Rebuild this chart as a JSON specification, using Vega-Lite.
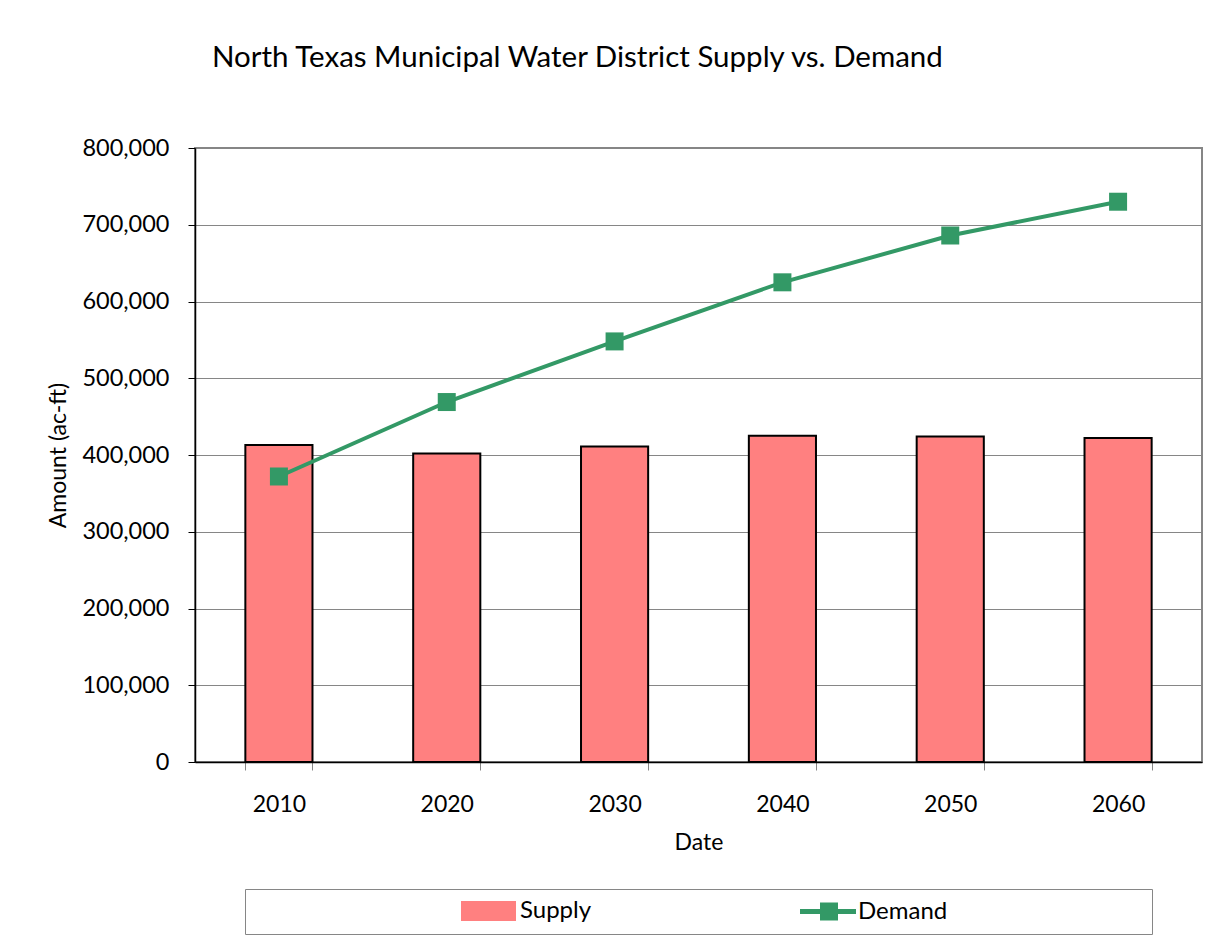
{
  "$schema": "https://vega.github.io/schema/vega-lite/v6.json",
  "width": 1007,
  "height": 614,
  "autosize": {"type": "none"},
  "padding": {"left": 195, "top": 148, "right": 29, "bottom": 184},
  "background": "white",
  "title": {
    "text": "North Texas Municipal Water District Supply vs. Demand",
    "anchor": "start",
    "frame": "group",
    "dx": 17,
    "offset": 40,
    "baseline": "alphabetic",
    "font": "Lato",
    "fontSize": 29.5,
    "fontWeight": "normal",
    "color": "black"
  },
  "data": {
    "values": [
      {"year": "2010", "supply": 413000, "demand": 372000},
      {"year": "2020", "supply": 402000, "demand": 469000},
      {"year": "2030", "supply": 411000, "demand": 548000},
      {"year": "2040", "supply": 425000, "demand": 625000},
      {"year": "2050", "supply": 424000, "demand": 686000},
      {"year": "2060", "supply": 422000, "demand": 730000}
    ]
  },
  "encoding": {
    "x": {
      "field": "year",
      "type": "ordinal",
      "title": "Date",
      "scale": {"paddingInner": 0.6, "paddingOuter": 0.3},
      "axis": {
        "labelAngle": 0,
        "tickBand": "extent",
        "tickSize": 8,
        "tickColor": "#868686",
        "domainColor": "black",
        "domainWidth": 1.5,
        "labelPadding": 23,
        "titlePadding": 15,
        "labelFont": "Lato",
        "labelFontSize": 23,
        "labelColor": "black",
        "titleFont": "Lato",
        "titleFontSize": 23,
        "titleFontWeight": "normal",
        "titleColor": "black",
        "grid": false
      }
    }
  },
  "layer": [
    {
      "mark": {"type": "bar", "stroke": "black", "strokeWidth": 2, "opacity": 1},
      "encoding": {
        "y": {
          "field": "supply",
          "type": "quantitative",
          "title": "Amount (ac-ft)",
          "scale": {"domain": [0, 800000], "nice": false},
          "axis": {
            "values": [0, 100000, 200000, 300000, 400000, 500000, 600000, 700000, 800000],
            "format": ",d",
            "tickSize": 7,
            "tickColor": "black",
            "domainColor": "black",
            "domainWidth": 1.5,
            "gridColor": "#868686",
            "gridWidth": 1,
            "labelPadding": 19,
            "titlePadding": 11,
            "labelFont": "Lato",
            "labelFontSize": 23.5,
            "labelColor": "black",
            "titleFont": "Lato",
            "titleFontSize": 23,
            "titleFontWeight": "normal",
            "titleColor": "black"
          }
        },
        "color": {
          "datum": "Supply",
          "type": "nominal",
          "scale": {"domain": ["Supply", "Demand"], "range": ["#FF8080", "#339966"]},
          "legend": {
            "orient": "none",
            "legendX": 50,
            "legendY": 741,
            "direction": "horizontal",
            "columns": 2,
            "columnPadding": 207,
            "padding": 10,
            "strokeColor": "#868686",
            "fillColor": "white",
            "title": ".",
            "titleOrient": "left",
            "titleFontSize": 1,
            "titleColor": "white",
            "titleOpacity": 0,
            "titlePadding": 205,
            "labelFont": "Lato",
            "labelFontSize": 24,
            "labelColor": "black",
            "labelLimit": 1000,
            "labelOffset": 35,
            "symbolSize": 400,
            "symbolStrokeWidth": 2,
            "symbolStrokeColor": "black",
            "encoding": {
              "symbols": {
                "shape": {"value": {"expr": "datum.value === 'Supply' ? 'M-1.1,-0.9H4.2V0.9H-1.1Z' : 'M-1.1,-0.25H4.5V0.25H-1.1Z M0.9,-0.9H2.7V0.9H0.9Z M33.1,0'"}},
                "fill": {"value": {"expr": "datum.value === 'Supply' ? '#FF8080' : '#339966'"}},
                "stroke": {"value": "black"},
                "strokeWidth": {"value": {"expr": "datum.value === 'Supply' ? 2 : 0"}},
                "opacity": {"value": 1},
                "fillOpacity": {"value": 1},
                "strokeOpacity": {"value": 1},
                "size": {"value": 400}
              }
            }
          }
        }
      }
    },
    {
      "mark": {"type": "line", "strokeWidth": 4},
      "encoding": {
        "y": {"field": "demand", "type": "quantitative"},
        "color": {"datum": "Demand", "type": "nominal", "legend": null}
      }
    },
    {
      "mark": {"type": "point", "shape": "square", "filled": true, "size": 324, "opacity": 1},
      "encoding": {
        "y": {"field": "demand", "type": "quantitative"},
        "color": {"datum": "Demand", "type": "nominal", "legend": null}
      }
    }
  ],
  "config": {
    "view": {"stroke": "#868686", "strokeWidth": 2},
    "font": "Lato"
  }
}
